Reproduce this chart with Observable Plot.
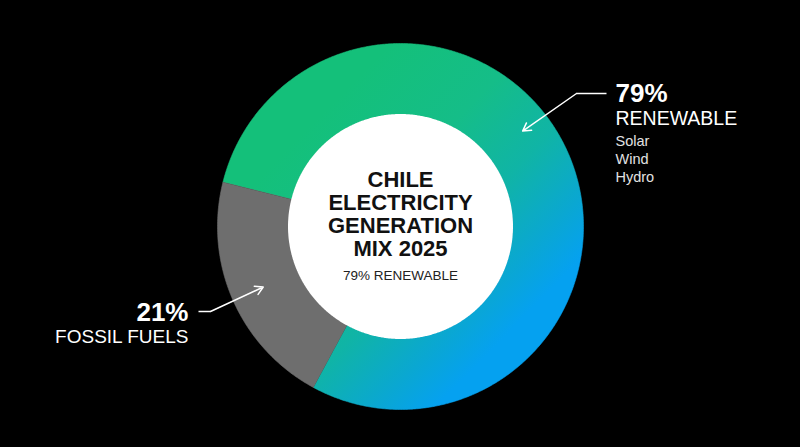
<!DOCTYPE html>
<html>
<head>
<meta charset="utf-8">
<script src="https://cdn.jsdelivr.net/npm/d3@7"></script>
<script src="https://cdn.jsdelivr.net/npm/@observablehq/plot@0.6"></script>
<style>
  html, body { margin: 0; padding: 0; background: #000; }
  #chart { width: 800px; height: 447px; }
</style>
</head>
<body>
<div id="chart"></div>
<script>
// ---- data ----
const categories = ["Renewable", "Fossil fuels"];
const shares = [79, 21];
const sliceLabels = ["RENEWABLE", "FOSSIL FUELS"];
const renewableSources = ["Solar", "Wind", "Hydro"];
const titleLines = ["CHILE", "ELECTRICITY", "GENERATION", "MIX 2025"];
const subtitle = "79% RENEWABLE";

// ---- layout ----
const W = 800, H = 447;
const cx = 400, cy = 226, rOuter = 183, rInner = 112;
const startDeg = -76;
const rad = d => d * Math.PI / 180;
const pt = (a, r) => [cx + r * Math.sin(a), cy - r * Math.cos(a)];

const pie = d3.pie().sort(null).value(d => d.share)
  .startAngle(rad(startDeg)).endAngle(rad(startDeg + 360));
const slices = pie(categories.map((c, i) => ({category: c, share: shares[i]})));

function annulus(s) {
  const pts = [];
  const n = Math.max(8, Math.ceil((s.endAngle - s.startAngle) / rad(0.5)));
  for (let i = 0; i <= n; i++) {
    const a = s.startAngle + (s.endAngle - s.startAngle) * i / n;
    const [x, y] = pt(a, rOuter); pts.push({x, y, category: s.data.category});
  }
  for (let i = n; i >= 0; i--) {
    const a = s.startAngle + (s.endAngle - s.startAngle) * i / n;
    const [x, y] = pt(a, rInner); pts.push({x, y, category: s.data.category});
  }
  return pts;
}
const renewPts = annulus(slices[0]);
const fossilPts = annulus(slices[1]);
const holePts = d3.range(0, 721).map(i => { const [x, y] = pt(rad(i / 2), rInner + 0.5); return {x, y}; });

// arrow tips derived from slice angles
const fossilMid = (slices[1].startAngle + slices[1].endAngle) / 2;
const [lTipX, lTipY] = pt(fossilMid, 150);
const [rTipX, rTipY] = pt(rad(52), 155);

const gradientDefs = () => {
  const ns = "http://www.w3.org/2000/svg";
  const defs = document.createElementNS(ns, "defs");
  const g = document.createElementNS(ns, "linearGradient");
  g.setAttribute("id", "renewGrad");
  g.setAttribute("gradientUnits", "userSpaceOnUse");
  g.setAttribute("x1", 315); g.setAttribute("y1", 120);
  g.setAttribute("x2", 520); g.setAttribute("y2", 320);
  [[0, "#14c07a"], [0.35, "#15bd88"], [0.62, "#10b4a6"], [0.85, "#0aa7d2"], [1, "#05a1f0"]].forEach(([o, c]) => {
    const s = document.createElementNS(ns, "stop");
    s.setAttribute("offset", o); s.setAttribute("stop-color", c);
    g.appendChild(s);
  });
  defs.appendChild(g);
  return defs;
};

const font = "Liberation Sans, Arial, Helvetica, sans-serif";

const chart = Plot.plot({
  width: W, height: H,
  margin: 0,
  x: {domain: [0, W], range: [0, W], axis: null},
  y: {domain: [0, H], range: [0, H], axis: null},
  style: {background: "#000", fontFamily: font},
  marks: [
    gradientDefs,
    Plot.line(renewPts, {x: "x", y: "y", fill: "url(#renewGrad)", stroke: "url(#renewGrad)", strokeWidth: 0.6, curve: "linear"}),
    Plot.line(fossilPts, {x: "x", y: "y", fill: "#6e6e6e", stroke: "#6e6e6e", strokeWidth: 0.6, curve: "linear"}),
    Plot.line(holePts, {x: "x", y: "y", fill: "#fff", stroke: "none", curve: "linear"}),
    // center title
    Plot.text(titleLines, {x: () => cx, y: (d, i) => 179 + i * 23, text: d => d, fontSize: 22, fontWeight: "bold", fill: "#111", lineAnchor: "middle", textAnchor: "middle"}),
    Plot.text([subtitle], {x: () => cx, y: () => 275, text: d => d, fontSize: 13.5, fill: "#222", lineAnchor: "middle", textAnchor: "middle", letterSpacing: "-0.2px"}),
    // right annotation
    Plot.link([0], {x1: () => 606, y1: () => 93, x2: () => 576, y2: () => 93, stroke: "#fff", strokeWidth: 1.5}),
    Plot.arrow([0], {x1: () => 576, y1: () => 93, x2: () => rTipX, y2: () => rTipY, stroke: "#fff", strokeWidth: 1.5, headLength: 9}),
    Plot.text([shares[0] + "%"], {x: () => 615, y: () => 93, text: d => d, fontSize: 26, fontWeight: "bold", fill: "#fff", textAnchor: "start", lineAnchor: "middle"}),
    Plot.text([sliceLabels[0]], {x: () => 615, y: () => 118, text: d => d, fontSize: 19.5, fill: "#fff", textAnchor: "start", lineAnchor: "middle"}),
    Plot.text(renewableSources, {x: () => 615, y: (d, i) => 141 + i * 17.7, text: d => d, fontSize: 14.5, fill: "#e2e2e2", textAnchor: "start", lineAnchor: "middle"}),
    // left annotation
    Plot.link([0], {x1: () => 198, y1: () => 311, x2: () => 210, y2: () => 311, stroke: "#fff", strokeWidth: 1.5}),
    Plot.arrow([0], {x1: () => 210, y1: () => 311, x2: () => lTipX, y2: () => lTipY, stroke: "#fff", strokeWidth: 1.5, headLength: 9}),
    Plot.text([shares[1] + "%"], {x: () => 188, y: () => 312, text: d => d, fontSize: 26, fontWeight: "bold", fill: "#fff", textAnchor: "end", lineAnchor: "middle"}),
    Plot.text([sliceLabels[1]], {x: () => 188, y: () => 336, text: d => d, fontSize: 19, fill: "#fff", textAnchor: "end", lineAnchor: "middle"})
  ]
});
document.getElementById("chart").appendChild(chart);
</script>
</body>
</html>
